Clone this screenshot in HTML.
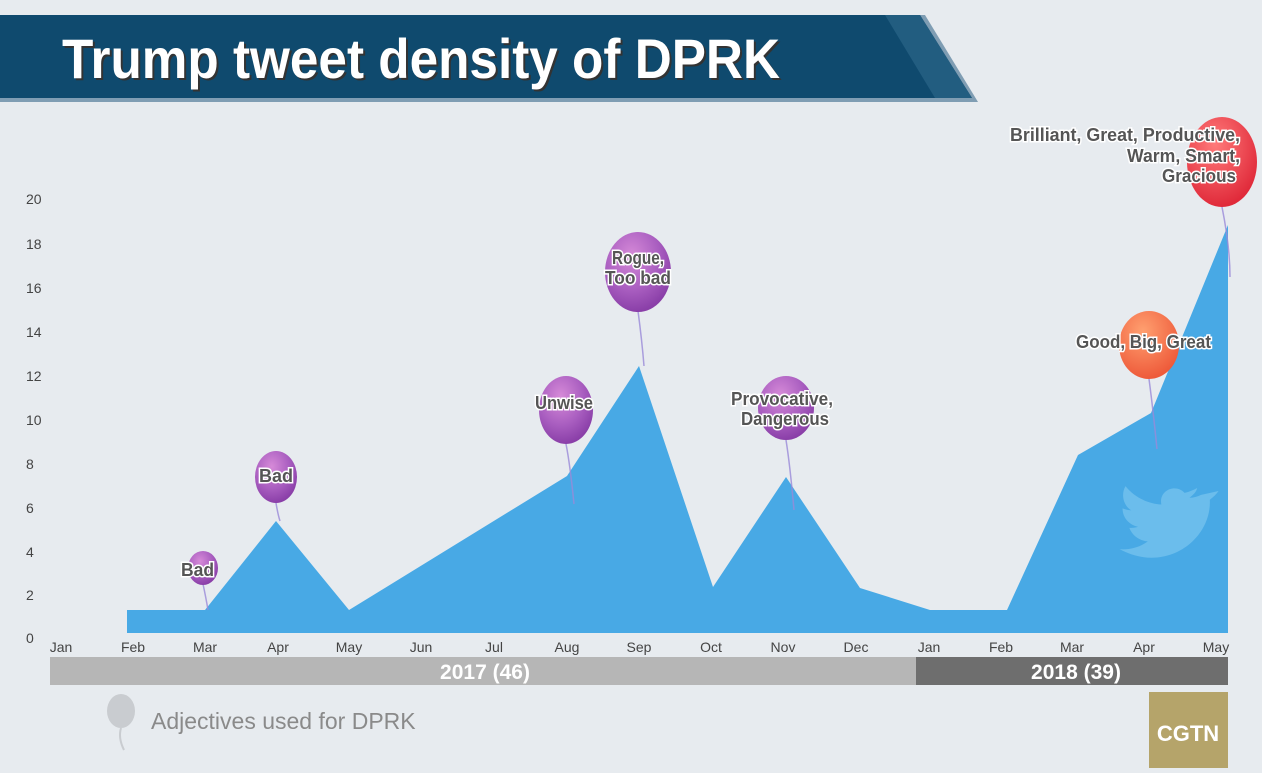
<!DOCTYPE html>
<html><head><meta charset="utf-8"><style>
body{margin:0;width:1262px;height:768px;background:#e7ebef;overflow:hidden;font-family:"Liberation Sans",sans-serif}
</style></head><body>
<svg width="1262" height="768" viewBox="0 0 1262 768" xmlns="http://www.w3.org/2000/svg">
<defs>
<radialGradient id="gp" cx="0.4" cy="0.3" r="0.7"><stop offset="0" stop-color="#d68ad8"/><stop offset="0.6" stop-color="#a95ec0"/><stop offset="1" stop-color="#8a3fa8"/></radialGradient>
<radialGradient id="go" cx="0.4" cy="0.3" r="0.7"><stop offset="0" stop-color="#ffa070"/><stop offset="1" stop-color="#ee5a3a"/></radialGradient>
<radialGradient id="gr" cx="0.4" cy="0.3" r="0.7"><stop offset="0" stop-color="#ff7a7a"/><stop offset="1" stop-color="#e02a3a"/></radialGradient>
<style>.t{font-family:"Liberation Sans",sans-serif;font-size:14px;fill:#444}.b{font-family:"Liberation Sans",sans-serif;font-weight:bold;font-size:18px;fill:#555;stroke:#fff;stroke-width:3;paint-order:stroke}</style>
</defs>
<polygon points="0,15 925,15 978,102 0,102" fill="#7f9db3"/>
<polygon points="0,15 920,15 972,98 0,98" fill="#0f4a6e"/>
<polygon points="885,15 920,15 972,98 935,98" fill="#225d80"/>
<text x="64" y="80" font-weight="bold" font-size="56" fill="#333" textLength="718" lengthAdjust="spacingAndGlyphs">Trump tweet density of DPRK</text>
<text x="62" y="78" font-weight="bold" font-size="56" fill="#fff" textLength="718" lengthAdjust="spacingAndGlyphs">Trump tweet density of DPRK</text>
<g class="t">
<text x="26" y="204">20</text><text x="26" y="249">18</text><text x="26" y="293">16</text><text x="26" y="337">14</text><text x="26" y="381">12</text><text x="26" y="425">10</text><text x="26" y="469">8</text><text x="26" y="513">6</text><text x="26" y="557">4</text><text x="26" y="600">2</text><text x="26" y="643">0</text>
</g>
<polygon points="127,633 127,610 205,610 276,521 349,610 567,476 639,366 713,587 786,477 860,588 930,610 1007,610 1078,455 1151,413 1228,225 1228,633" fill="#48a9e5"/>
<g fill="#6bbdec" transform="translate(1108,490) scale(0.97)"><path d="M96,5c-4,2-8,3-12,3c4-3,7-6,8-10c-4,2-8,4-13,5c-9-10-27-3-24,12c-15-1-28-8-37-19c-5,9-2,20,6,25c-3,0-6-1-9-2c0,10,7,17,16,19c-3,1-6,1-9,1c3,8,10,13,19,14c-8,6-19,9-29,8c48,26,95-10,93-51c4-3,7-6,9-9z"/></g>
<g class="t" text-anchor="middle" font-size="14">
<text x="61" y="652">Jan</text><text x="133" y="652">Feb</text><text x="205" y="652">Mar</text><text x="278" y="652">Apr</text><text x="349" y="652">May</text><text x="421" y="652">Jun</text><text x="494" y="652">Jul</text><text x="567" y="652">Aug</text><text x="639" y="652">Sep</text><text x="711" y="652">Oct</text><text x="783" y="652">Nov</text><text x="856" y="652">Dec</text><text x="929" y="652">Jan</text><text x="1001" y="652">Feb</text><text x="1072" y="652">Mar</text><text x="1144" y="652">Apr</text><text x="1216" y="652">May</text>
</g>
<rect x="50" y="657" width="866" height="28" fill="#b6b6b6"/>
<rect x="916" y="657" width="312" height="28" fill="#6e6e6e"/>
<text x="485" y="679" text-anchor="middle" font-weight="bold" font-size="21" fill="#fff">2017 (46)</text>
<text x="1076" y="679" text-anchor="middle" font-weight="bold" font-size="21" fill="#fff">2018 (39)</text>
<ellipse cx="121" cy="711" rx="14" ry="17" fill="#c9ccd0"/><path d="M121,728 q-3,10 3,22" stroke="#c9ccd0" fill="none" stroke-width="2"/>
<text x="151" y="729" font-size="23" fill="#8a8a8a">Adjectives used for DPRK</text>
<rect x="1149" y="692" width="79" height="76" fill="#b5a46a"/>
<text x="1188" y="741" text-anchor="middle" font-weight="bold" font-size="22" fill="#fff">CGTN</text>
<g stroke="#9a8ad8" fill="none" stroke-width="1.5" opacity="0.8">
<path d="M203,584 q3,14 5,26"/><path d="M276,503 q2,12 4,18"/><path d="M566,444 q4,20 8,60"/><path d="M638,311 q4,30 6,55"/><path d="M786,440 q4,25 8,70"/><path d="M1149,379 q4,30 8,70"/><path d="M1222,207 q8,40 8,70"/>
</g>
<ellipse cx="203" cy="568" rx="15" ry="17" fill="url(#gp)"/>
<ellipse cx="276" cy="477" rx="21" ry="26" fill="url(#gp)"/>
<ellipse cx="566" cy="410" rx="27" ry="34" fill="url(#gp)"/>
<ellipse cx="638" cy="272" rx="33" ry="40" fill="url(#gp)"/>
<ellipse cx="786" cy="408" rx="28" ry="32" fill="url(#gp)"/>
<ellipse cx="1149" cy="345" rx="30" ry="34" fill="url(#go)"/>
<ellipse cx="1222" cy="162" rx="35" ry="45" fill="url(#gr)"/>
<text class="b" x="181" y="576" textLength="33" lengthAdjust="spacingAndGlyphs">Bad</text>
<text class="b" x="259" y="482" textLength="34" lengthAdjust="spacingAndGlyphs">Bad</text>
<text class="b" x="535" y="409" textLength="58" lengthAdjust="spacingAndGlyphs">Unwise</text>
<text class="b" x="612" y="264" textLength="52" lengthAdjust="spacingAndGlyphs">Rogue,</text><text class="b" x="605" y="284" textLength="66" lengthAdjust="spacingAndGlyphs">Too bad</text>
<text class="b" x="731" y="405" textLength="102" lengthAdjust="spacingAndGlyphs">Provocative,</text><text class="b" x="741" y="425" textLength="88" lengthAdjust="spacingAndGlyphs">Dangerous</text>
<text class="b" x="1076" y="348" textLength="135" lengthAdjust="spacingAndGlyphs">Good, Big, Great</text>
<text class="b" x="1010" y="141" textLength="230" lengthAdjust="spacingAndGlyphs">Brilliant, Great, Productive,</text>
<text class="b" x="1127" y="162" textLength="113" lengthAdjust="spacingAndGlyphs">Warm, Smart,</text>
<text class="b" x="1162" y="182" textLength="74" lengthAdjust="spacingAndGlyphs">Gracious</text>
</svg>
</body></html>
